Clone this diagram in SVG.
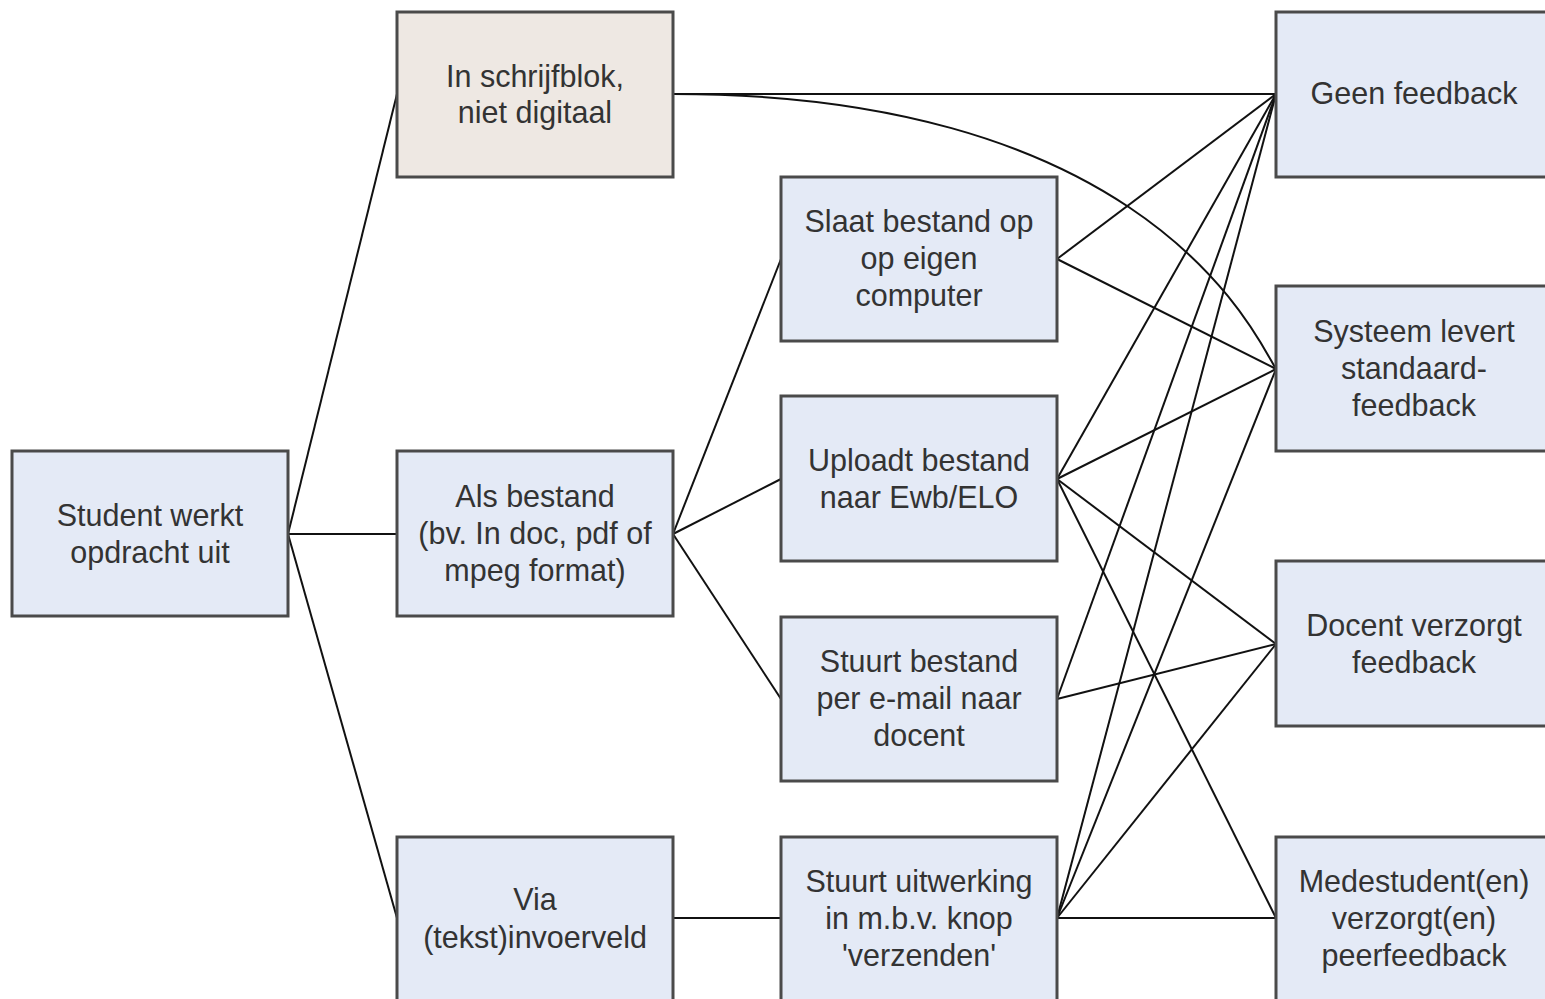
<svg xmlns="http://www.w3.org/2000/svg" width="1545" height="999" viewBox="0 0 1545 999">
  <style>
    .box { fill: #e4eaf6; stroke: #4a4a4a; stroke-width: 3; }
    .paper { fill: #eee8e3; }
    .lbl { font-family: "Liberation Sans", Arial, sans-serif; font-size: 30.5px; fill: #333333; text-anchor: middle; dominant-baseline: central; }
    .conn { fill: none; stroke: #111111; stroke-width: 2; }
  </style>
  <rect width="1545" height="999" fill="#ffffff"/>

  <!-- connectors -->
  <g id="connectors">
    <!-- start -> input method -->
    <line class="conn" x1="288" y1="534" x2="397" y2="94"/>
    <line class="conn" x1="288" y1="534" x2="397" y2="534"/>
    <line class="conn" x1="288" y1="534" x2="397" y2="918"/>
    <!-- file -> handling -->
    <line class="conn" x1="673" y1="534" x2="781" y2="259"/>
    <line class="conn" x1="673" y1="534" x2="781" y2="479"/>
    <line class="conn" x1="673" y1="534" x2="781" y2="699"/>
    <!-- text field -> send button -->
    <line class="conn" x1="673" y1="918" x2="781" y2="918"/>
    <!-- notebook -> feedback -->
    <line class="conn" x1="673" y1="94" x2="1276" y2="94"/>
    <path class="conn" d="M673,94 C1150,94 1255,335 1276,369"/>
    <!-- save locally -> feedback -->
    <line class="conn" x1="1057" y1="259" x2="1276" y2="94"/>
    <line class="conn" x1="1057" y1="259" x2="1276" y2="369"/>
    <!-- upload -> feedback -->
    <line class="conn" x1="1057" y1="479" x2="1276" y2="94"/>
    <line class="conn" x1="1057" y1="479" x2="1276" y2="369"/>
    <line class="conn" x1="1057" y1="479" x2="1276" y2="644"/>
    <line class="conn" x1="1057" y1="479" x2="1276" y2="918"/>
    <!-- e-mail -> feedback -->
    <line class="conn" x1="1057" y1="699" x2="1276" y2="94"/>
    <line class="conn" x1="1057" y1="699" x2="1276" y2="644"/>
    <!-- send button -> feedback -->
    <line class="conn" x1="1057" y1="918" x2="1276" y2="94"/>
    <line class="conn" x1="1057" y1="918" x2="1276" y2="369"/>
    <line class="conn" x1="1057" y1="918" x2="1276" y2="644"/>
    <line class="conn" x1="1057" y1="918" x2="1276" y2="918"/>
  </g>

  <!-- nodes -->
  <g id="student">
    <rect class="box" x="12" y="451" width="276" height="165"/>
    <text class="lbl" x="150" y="515">Student werkt</text>
    <text class="lbl" x="150" y="552">opdracht uit</text>
  </g>
  <g id="schrijfblok">
    <rect class="box paper" x="397" y="12" width="276" height="165"/>
    <text class="lbl" x="535" y="76">In schrijfblok,</text>
    <text class="lbl" x="535" y="112">niet digitaal</text>
  </g>
  <g id="bestand">
    <rect class="box" x="397" y="451" width="276" height="165"/>
    <text class="lbl" x="535" y="496">Als bestand</text>
    <text class="lbl" x="535" y="533">(bv. In doc, pdf of</text>
    <text class="lbl" x="535" y="570">mpeg format)</text>
  </g>
  <g id="invoerveld">
    <rect class="box" x="397" y="837" width="276" height="165"/>
    <text class="lbl" x="535" y="899">Via</text>
    <text class="lbl" x="535" y="937">(tekst)invoerveld</text>
  </g>
  <g id="opslaan">
    <rect class="box" x="781" y="177" width="276" height="164"/>
    <text class="lbl" x="919" y="221">Slaat bestand op</text>
    <text class="lbl" x="919" y="258">op eigen</text>
    <text class="lbl" x="919" y="295">computer</text>
  </g>
  <g id="uploaden">
    <rect class="box" x="781" y="396" width="276" height="165"/>
    <text class="lbl" x="919" y="460">Uploadt bestand</text>
    <text class="lbl" x="919" y="497">naar Ewb/ELO</text>
  </g>
  <g id="email">
    <rect class="box" x="781" y="617" width="276" height="164"/>
    <text class="lbl" x="919" y="661">Stuurt bestand</text>
    <text class="lbl" x="919" y="698">per e-mail naar</text>
    <text class="lbl" x="919" y="735">docent</text>
  </g>
  <g id="verzenden">
    <rect class="box" x="781" y="837" width="276" height="165"/>
    <text class="lbl" x="919" y="881">Stuurt uitwerking</text>
    <text class="lbl" x="919" y="918">in m.b.v. knop</text>
    <text class="lbl" x="919" y="955">'verzenden'</text>
  </g>
  <g id="geen-feedback">
    <rect class="box" x="1276" y="12" width="276" height="165"/>
    <text class="lbl" x="1414" y="93">Geen feedback</text>
  </g>
  <g id="systeem-feedback">
    <rect class="box" x="1276" y="286" width="276" height="165"/>
    <text class="lbl" x="1414" y="331">Systeem levert</text>
    <text class="lbl" x="1414" y="368">standaard-</text>
    <text class="lbl" x="1414" y="405">feedback</text>
  </g>
  <g id="docent-feedback">
    <rect class="box" x="1276" y="561" width="276" height="165"/>
    <text class="lbl" x="1414" y="625">Docent verzorgt</text>
    <text class="lbl" x="1414" y="662">feedback</text>
  </g>
  <g id="peerfeedback">
    <rect class="box" x="1276" y="837" width="276" height="165"/>
    <text class="lbl" x="1414" y="881">Medestudent(en)</text>
    <text class="lbl" x="1414" y="918">verzorgt(en)</text>
    <text class="lbl" x="1414" y="955">peerfeedback</text>
  </g>
</svg>
